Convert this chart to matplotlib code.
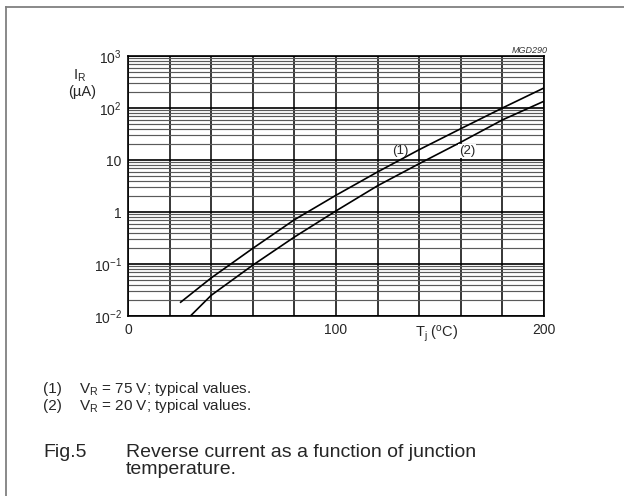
import matplotlib
matplotlib.use('Agg')
import matplotlib.pyplot as plt
from matplotlib.ticker import FixedLocator, FixedFormatter, LogLocator, NullFormatter
from matplotlib.lines import Line2D

plt.rcParams['font.family'] = ['Liberation Sans', 'DejaVu Sans']
plt.rcParams['mathtext.fontset'] = 'custom'
plt.rcParams['mathtext.rm'] = 'Liberation Sans'
plt.rcParams['mathtext.it'] = 'Liberation Sans:italic'
plt.rcParams['mathtext.default'] = 'regular'

# ---- data ----
temp_1 = [25, 40, 60, 80, 100, 120, 140, 160, 180, 200]
ir_1 = [0.018, 0.054, 0.2, 0.71, 2.1, 5.9, 15.8, 40, 100, 243]      # (1) VR = 75 V
temp_2 = [30, 40, 60, 80, 100, 120, 140, 160, 180, 200]
ir_2 = [0.01, 0.025, 0.095, 0.33, 1.05, 3.2, 8.5, 22, 59, 135]      # (2) VR = 20 V

x_ticks = [0, 20, 40, 60, 80, 100, 120, 140, 160, 180, 200]
x_tick_labels = ['0', '', '', '', '', '100', '', '', '', '', '200']
y_ticks = [1e-2, 1e-1, 1, 10, 100, 1000]
y_tick_labels = [r'$10^{-2}$', r'$10^{-1}$', '1', '10', r'$10^{2}$', r'$10^{3}$']

curve_labels = ['(1)', '(2)']
notes = ['V$_R$ = 75 V; typical values.', 'V$_R$ = 20 V; typical values.']

W, H = 624, 496
fig = plt.figure(figsize=(W / 100, H / 100), dpi=100)
ax = fig.add_axes([128 / W, 1 - 316 / H, 416 / W, 260 / H])

TXT = '#262626'

ax.set_yscale('log')
ax.set_xlim(0, 200)
ax.set_ylim(1e-2, 1e3)

ax.xaxis.set_major_locator(FixedLocator(x_ticks))
ax.xaxis.set_major_formatter(FixedFormatter(x_tick_labels))
ax.yaxis.set_major_locator(FixedLocator(y_ticks))
ax.yaxis.set_major_formatter(FixedFormatter(y_tick_labels))
ax.yaxis.set_minor_locator(LogLocator(base=10, subs=[2, 3, 4, 5, 6, 7, 8, 9], numticks=20))
ax.yaxis.set_minor_formatter(NullFormatter())

ax.tick_params(which='both', length=0, labelsize=10, colors=TXT)
ax.tick_params(axis='x', pad=5)
ax.tick_params(axis='y', pad=4.5)

ax.grid(which='major', axis='x', color='black', lw=1.1)
ax.grid(which='major', axis='y', color='black', lw=1.2)
ax.grid(which='minor', axis='y', color='#5a5a5a', lw=0.85)
ax.set_axisbelow(True)
for s in ax.spines.values():
    s.set_color('black')
    s.set_linewidth(1.2)

ax.plot(temp_1, ir_1, color='black', lw=1.2, solid_capstyle='butt')
ax.plot(temp_2, ir_2, color='black', lw=1.2, solid_capstyle='butt')

ax.text(131, 14.8, curve_labels[0], ha='center', va='center', fontsize=9.5, color=TXT)
ax.text(163, 14.8, curve_labels[1], ha='center', va='center', fontsize=9.5, color=TXT,
        bbox=dict(facecolor='white', edgecolor='none', pad=0.5))

# x label
ax.text((437 - 128) / 416, (316 - 334) / 260, 'T$_j$ ($^o$C)', transform=ax.transAxes,
        ha='center', va='center', fontsize=10.5, color=TXT)

def fx(x):
    return x / W

def fy(y):
    return 1 - y / H

# y label
fig.text(fx(80), fy(80), 'I$_R$', ha='center', va='baseline', fontsize=10.5, color=TXT)
fig.text(fx(82), fy(96), '(\u00b5A)', ha='center', va='baseline', fontsize=10.5, color=TXT)

# code
fig.text(fx(548), fy(53), 'MGD290', ha='right', va='baseline', fontsize=6.5,
         style='italic', color='#333333')

# notes
fig.text(fx(43), fy(393), '(1)', ha='left', va='baseline', fontsize=11, color=TXT)
fig.text(fx(79), fy(393), notes[0], ha='left', va='baseline', fontsize=11, color=TXT)
fig.text(fx(43), fy(410), '(2)', ha='left', va='baseline', fontsize=11, color=TXT)
fig.text(fx(79), fy(410), notes[1], ha='left', va='baseline', fontsize=11, color=TXT)

# caption
fig.text(fx(43), fy(457), 'Fig.5', ha='left', va='baseline', fontsize=14, color=TXT)
fig.text(fx(126), fy(457), 'Reverse current as a function of junction', ha='left',
         va='baseline', fontsize=14, color=TXT)
fig.text(fx(126), fy(474), 'temperature.', ha='left', va='baseline', fontsize=14, color=TXT)

# frame (left and top edges)
fig.add_artist(Line2D([fx(6), fx(6)], [0, fy(7)], transform=fig.transFigure,
                      color='#808080', lw=1.3))
fig.add_artist(Line2D([fx(6), 1], [fy(7), fy(7)], transform=fig.transFigure,
                      color='#808080', lw=1.3))

fig.savefig('out.png', dpi=100)
